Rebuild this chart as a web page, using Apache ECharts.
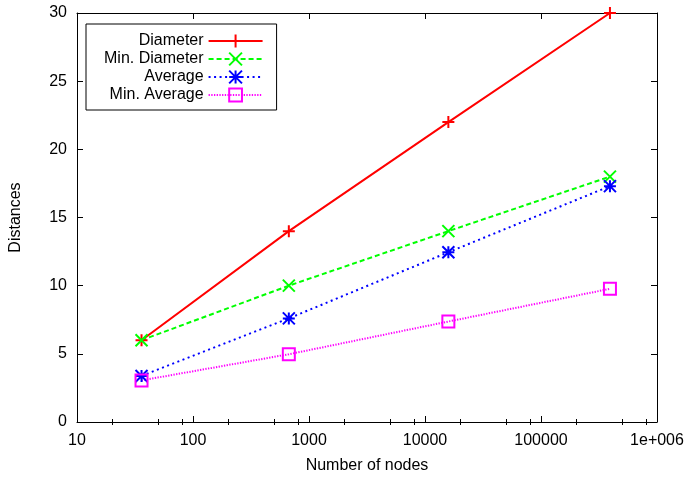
<!DOCTYPE html>
<html>
<head>
<meta charset="utf-8">
<script src="https://cdn.jsdelivr.net/npm/echarts@6/dist/echarts.min.js"></script>
<style>
html,body{margin:0;padding:0;background:#fff;}
#c{width:692px;height:479px;}
</style>
</head>
<body>
<div id="c"></div>
<script>
// ---- data ----
const nodes = [36, 670, 15900, 393000];
const diameter = [6, 14, 22, 30];
const minDiameter = [6, 10, 14, 18];
const average = [3.38, 7.6, 12.45, 17.3];
const minAverage = [3.05, 4.97, 7.37, 9.77];

const seriesNames = ['Diameter', 'Min. Diameter', 'Average', 'Min. Average'];

const xMajorTicks = [10, 100, 1000, 10000, 100000, 1000000];
const xTickLabels = ['10', '100', '1000', '10000', '100000', '1e+006'];
const xMinorTicks = [20, 50, 80, 200, 500, 800, 2000, 5000, 8000,
                     20000, 50000, 80000, 200000, 500000, 800000];
const yTickLabels = ['0', '5', '10', '15', '20', '25', '30'];

const FONT = 'Liberation Sans';
const FS = 16;

function pairs(ys) { return nodes.map((n, i) => [n, ys[i]]); }

function labelFor(v) {
  const idx = xMajorTicks.findIndex(t => Math.abs(Math.log10(t) - Math.log10(v)) < 1e-6);
  return idx >= 0 ? xTickLabels[idx] : '';
}

const baseX = {
  type: 'log', logBase: 10, min: 10, max: 1000000,
  splitLine: { show: false }, minorTick: { show: false }, minorSplitLine: { show: false }
};

const chart = echarts.init(document.getElementById('c'), null, { renderer: 'canvas' });

const option = {
  animation: false,
  backgroundColor: '#fff',
  textStyle: { fontFamily: FONT },
  grid: { left: 73, right: 35, top: 13, bottom: 55, containLabel: false },
  legend: {
    left: 86, top: 24,
    orient: 'vertical',
    align: 'right',
    data: seriesNames,
    selectedMode: false,
    itemWidth: 54, itemHeight: 16, itemGap: 2,
    padding: [9, 13, 7, 18],
    borderColor: '#000', borderWidth: 1,
    textStyle: { fontFamily: FONT, fontSize: FS, color: '#000' }
  },
  xAxis: [
    Object.assign({}, baseX, {
      position: 'bottom',
      name: 'Number of nodes', nameLocation: 'middle', nameGap: 36,
      nameTextStyle: { fontFamily: FONT, fontSize: FS, color: '#000' },
      axisLine: { show: true, onZero: false, lineStyle: { color: '#000', width: 1 } },
      axisTick: { show: true, inside: true, length: 6, customValues: xMajorTicks, lineStyle: { color: '#000', width: 1 } },
      axisLabel: { show: true, customValues: xMajorTicks, margin: 11, fontFamily: FONT, fontSize: FS, color: '#000',
                   formatter: v => labelFor(v) }
    }),
    Object.assign({}, baseX, {
      position: 'bottom',
      axisLine: { show: false },
      axisTick: { show: true, inside: true, length: 3, customValues: xMinorTicks, lineStyle: { color: '#000', width: 1 } },
      axisLabel: { show: false }
    }),
    Object.assign({}, baseX, {
      position: 'top',
      axisLine: { show: true, onZero: false, lineStyle: { color: '#000', width: 1 } },
      axisTick: { show: true, inside: true, length: 6, customValues: xMajorTicks, lineStyle: { color: '#000', width: 1 } },
      axisLabel: { show: false }
    }),
    Object.assign({}, baseX, {
      position: 'top',
      axisLine: { show: false },
      axisTick: { show: true, inside: true, length: 3, customValues: xMinorTicks, lineStyle: { color: '#000', width: 1 } },
      axisLabel: { show: false }
    })
  ],
  yAxis: [
    {
      type: 'value', position: 'left', min: 0, max: 30, interval: 5,
      name: 'Distances', nameLocation: 'middle', nameGap: 53, nameRotate: 90,
      nameTextStyle: { fontFamily: FONT, fontSize: FS, color: '#000' },
      splitLine: { show: false },
      axisLine: { show: true, onZero: false, lineStyle: { color: '#000', width: 1 } },
      axisTick: { show: true, inside: true, length: 6, lineStyle: { color: '#000', width: 1 } },
      axisLabel: { margin: 10, fontFamily: FONT, fontSize: FS, color: '#000',
                   formatter: v => yTickLabels[Math.round(v / 5)] }
    },
    {
      type: 'value', position: 'right', min: 0, max: 30, interval: 5,
      splitLine: { show: false },
      axisLine: { show: true, onZero: false, lineStyle: { color: '#000', width: 1 } },
      axisTick: { show: true, inside: true, length: 6, lineStyle: { color: '#000', width: 1 } },
      axisLabel: { show: false }
    }
  ],
  series: [
    {
      name: seriesNames[0], type: 'line', xAxisIndex: 0, yAxisIndex: 0,
      data: pairs(diameter),
      symbol: 'path://M5,0L5,10M0,5L10,5', symbolSize: 12,
      itemStyle: { color: 'transparent', borderColor: '#ff0000', borderWidth: 2 },
      lineStyle: { color: '#ff0000', width: 2, type: 'solid' },
      emphasis: { disabled: true }
    },
    {
      name: seriesNames[1], type: 'line', xAxisIndex: 0, yAxisIndex: 0,
      data: pairs(minDiameter),
      symbol: 'path://M0,0L10,10M10,0L0,10', symbolSize: 12,
      itemStyle: { color: 'transparent', borderColor: '#00ff00', borderWidth: 2 },
      lineStyle: { color: '#00ff00', width: 2, type: [5, 3] },
      emphasis: { disabled: true }
    },
    {
      name: seriesNames[2], type: 'line', xAxisIndex: 0, yAxisIndex: 0,
      data: pairs(average),
      symbol: 'path://M0,0L10,10M10,0L0,10M5,0L5,10M0,5L10,5', symbolSize: 12,
      itemStyle: { color: 'transparent', borderColor: '#0000ff', borderWidth: 2 },
      lineStyle: { color: '#0000ff', width: 2, type: [2, 3.5] },
      emphasis: { disabled: true }
    },
    {
      name: seriesNames[3], type: 'line', xAxisIndex: 0, yAxisIndex: 0,
      data: pairs(minAverage),
      symbol: 'path://M0,0L10,0L10,10L0,10Z', symbolSize: 12,
      itemStyle: { color: 'transparent', borderColor: '#ff00ff', borderWidth: 2 },
      lineStyle: { color: '#ff00ff', width: 2, type: [1.3, 1.4] },
      emphasis: { disabled: true }
    }
  ]
};

chart.setOption(option);
</script>
</body>
</html>
